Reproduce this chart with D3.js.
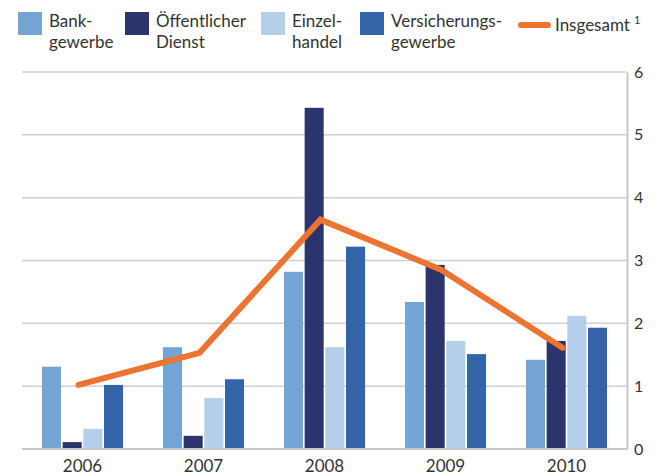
<!DOCTYPE html>
<html><head><meta charset="utf-8">
<script src="https://cdn.jsdelivr.net/npm/d3@7"></script>
<style>body{margin:0;background:#fff}svg{display:block}text{font-family:Lato,"Open Sans",sans-serif;fill:#333}</style>
</head><body><svg id="c" width="658" height="475"></svg>
<script>
const years = ["2006","2007","2008","2009","2010"];
const seriesNames = [["Bank-","gewerbe"],["Öffentlicher","Dienst"],["Einzel-","handel"],["Versicherungs-","gewerbe"]];
const bankgewerbe = [1.31,1.62,2.82,2.34,1.42];
const oeffentlicherDienst = [0.11,0.21,5.43,2.93,1.72];
const einzelhandel = [0.32,0.81,1.62,1.72,2.12];
const versicherungsgewerbe = [1.02,1.11,3.22,1.51,1.93];
const insgesamt = [1.02,1.53,3.65,2.85,1.61];
const yTicks = [0,1,2,3,4,5,6];
const colors = ["#74a4d3","#2b356b","#b4cfe9","#3464a8"];
const lineColor = "#ec7432";
const series = [bankgewerbe, oeffentlicherDienst, einzelhandel, versicherungsgewerbe];

const svg = d3.select("#c");
const L=22,R=627,T=72,B=449;
const x = d3.scaleBand().domain(years).range([L,R]).paddingInner(0.33).paddingOuter(0.165);
const xs = d3.scaleBand().domain(d3.range(4)).range([0,x.bandwidth()]).paddingInner(0.08);
const y = d3.scaleLinear().domain([0,6]).range([B,T]);

// grid
svg.append("g").selectAll("line").data(yTicks.filter(d=>d>0)).join("line")
  .attr("x1",L).attr("x2",R).attr("y1",d=>y(d)).attr("y2",d=>y(d))
  .attr("stroke","#d0d0d0").attr("stroke-width",1.5);

// right axis
const ya = svg.append("g").attr("transform",`translate(${R},0)`)
  .call(d3.axisRight(y).tickValues(yTicks).tickFormat(d3.format("d")).tickSize(0).tickPadding(7));
ya.select(".domain").attr("stroke","#c8c8c8").attr("stroke-width",2);
ya.selectAll("text").attr("font-size",16).style("font-family","Lato,sans-serif").attr("fill","#333");

// bars
series.forEach((s,i)=>{
  svg.append("g").selectAll("rect").data(s).join("rect")
    .attr("x",(d,j)=>x(years[j])+xs(i)).attr("width",xs.bandwidth())
    .attr("y",d=>y(d)).attr("height",d=>B-y(d)).attr("fill",colors[i]);
});

// bottom axis
const xa = svg.append("g").attr("transform",`translate(0,${B})`)
  .call(d3.axisBottom(x).tickSize(0).tickPadding(11));
xa.select(".domain").attr("stroke","#c8c8c8").attr("stroke-width",2).attr("d",`M${L},0H${R}`);
xa.selectAll("text").attr("font-size",17).style("font-family","Lato,sans-serif").attr("fill","#333");

// line
const line = d3.line().x((d,j)=>x(years[j])+x.bandwidth()/2-4).y(d=>y(d));
svg.append("path").datum(insgesamt).attr("d",line).attr("fill","none")
  .attr("stroke",lineColor).attr("stroke-width",6).attr("stroke-linecap","round").attr("stroke-linejoin","miter");

// legend
const legX = [18,125,261,360];
const lg = svg.append("g");
seriesNames.forEach((n,i)=>{
  lg.append("rect").attr("x",legX[i]).attr("y",12).attr("width",24).attr("height",23).attr("fill",colors[i]);
  const t = lg.append("text").attr("x",legX[i]+31).attr("y",27).attr("font-size",17);
  t.append("tspan").attr("x",legX[i]+31).text(n[0]);
  t.append("tspan").attr("x",legX[i]+31).attr("dy",21).text(n[1]);
});
lg.append("line").attr("x1",521).attr("x2",548).attr("y1",25).attr("y2",25)
  .attr("stroke",lineColor).attr("stroke-width",6).attr("stroke-linecap","round");
const it = lg.append("text").attr("x",555).attr("y",31).attr("font-size",17);
it.append("tspan").text("Insgesamt");
it.append("tspan").attr("dx",4).attr("dy",-7).attr("font-size",11).text("1");
</script></body></html>
